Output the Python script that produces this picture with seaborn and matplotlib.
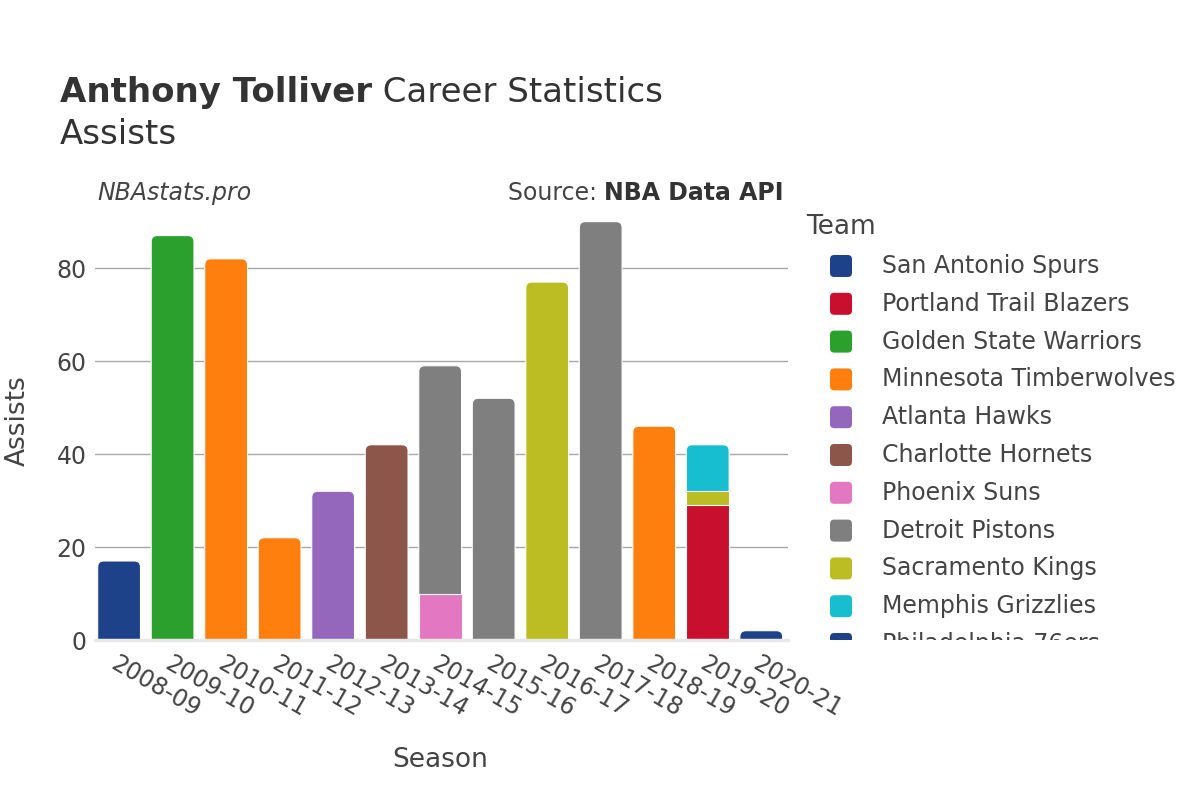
import matplotlib

matplotlib.use("Agg")
import matplotlib.pyplot as plt
import pandas as pd
import seaborn as sns
from matplotlib.patches import FancyBboxPatch
from matplotlib.transforms import Bbox, TransformedBbox

seasons = [
    "2008-09", "2009-10", "2010-11", "2011-12", "2012-13", "2013-14", "2014-15",
    "2015-16", "2016-17", "2017-18", "2018-19", "2019-20", "2020-21",
]

# legend order, also the stacking order (first = bottom)
teams = [
    "San Antonio Spurs", "Portland Trail Blazers", "Golden State Warriors",
    "Minnesota Timberwolves", "Atlanta Hawks", "Charlotte Hornets", "Phoenix Suns",
    "Detroit Pistons", "Sacramento Kings", "Memphis Grizzlies", "Philadelphia 76ers",
]
team_colors = [
    "#1d428a", "#c8102e", "#2ca02c", "#ff7f0e", "#9467bd", "#8c564b", "#e377c2",
    "#7f7f7f", "#bcbd22", "#17becf", "#1d428a",
]

row_season = [
    "2008-09", "2009-10", "2010-11", "2011-12", "2012-13", "2013-14", "2014-15",
    "2014-15", "2015-16", "2016-17", "2017-18", "2018-19", "2019-20", "2019-20",
    "2019-20", "2020-21",
]
row_team = [
    "San Antonio Spurs", "Golden State Warriors", "Minnesota Timberwolves",
    "Minnesota Timberwolves", "Atlanta Hawks", "Charlotte Hornets", "Phoenix Suns",
    "Detroit Pistons", "Detroit Pistons", "Sacramento Kings", "Detroit Pistons",
    "Minnesota Timberwolves", "Portland Trail Blazers", "Sacramento Kings",
    "Memphis Grizzlies", "Philadelphia 76ers",
]
row_assists = [17, 87, 82, 22, 32, 42, 10, 49, 52, 77, 90, 46, 29, 3, 10, 2]

TEXT = "#444444"
GRID = "#a8a8a8"

df = pd.DataFrame({"season": row_season, "team": row_team, "assists": row_assists})
df["rank"] = df["team"].map({t: i for i, t in enumerate(teams)})
df = df.sort_values(["season", "rank"])
# cumulative top of each segment; bars are overlaid from the top segment down
df["top"] = df.groupby("season")["assists"].cumsum()

sns.set_theme(style="white")
plt.rcParams["font.family"] = ["DejaVu Sans"]

fig = plt.figure(figsize=(12, 8), dpi=100)
ax = fig.add_axes([95 / 1200, 0.2, 693 / 1200, 430 / 800])

sns.barplot(
    data=df,
    x="season",
    y="top",
    hue="team",
    order=seasons,
    hue_order=teams[::-1],
    palette=dict(zip(teams, team_colors)),
    dodge=False,
    saturation=1,
    errorbar=None,
    legend=False,
    width=0.8,
    ax=ax,
)

ax.set_xlim(-0.45, 12.5)
ax.set_ylim(0, 92.5)
ax.set_yticks([0, 20, 40, 60, 80])
ax.grid(axis="y", color=GRID, linewidth=1)
ax.set_axisbelow(True)
sns.despine(ax=ax, left=True, bottom=True)
ax.axhline(0, color="#e8e8e8", linewidth=2.5, zorder=3, clip_on=False)

# round the top corners of the highest segment in every season
p0 = ax.transData.transform((0, 0))
p1 = ax.transData.transform((1, 1))
px_x, px_y = p1[0] - p0[0], p1[1] - p0[1]
r = 6 / px_x
aspect = px_x / px_y
tallest = {}
for bar in ax.patches:
    h = bar.get_height()
    if not h == h or h <= 0:
        continue
    key = round(bar.get_x() + bar.get_width() / 2)
    if key not in tallest or h > tallest[key].get_height():
        tallest[key] = bar
for bar in list(ax.patches):
    bar.set_edgecolor("white")
    bar.set_linewidth(0.8)
for bar in tallest.values():
    ext = r * aspect
    rounded = FancyBboxPatch(
        (bar.get_x(), -ext),
        bar.get_width(),
        bar.get_height() + ext,
        boxstyle=f"round,pad=0,rounding_size={r}",
        mutation_aspect=aspect,
        facecolor=bar.get_facecolor(),
        edgecolor="white",
        linewidth=0.8,
        zorder=0.9,
    )
    ax.add_patch(rounded)
    bar.remove()

ax.tick_params(axis="y", length=5, width=1, color=GRID, pad=1, labelsize=17, labelcolor=TEXT)
ax.tick_params(axis="x", length=0, pad=8, labelsize=17, labelcolor=TEXT)
for label in ax.get_xticklabels():
    label.set_rotation(-30)
    label.set_ha("left")
    label.set_va("top")
    label.set_rotation_mode("anchor")

ax.set_xlabel("Season", fontsize=19, color=TEXT, va="center")
ax.xaxis.set_label_coords(0.498, -0.279)
ax.set_ylabel("Assists", fontsize=19, color=TEXT, va="center")
ax.yaxis.set_label_coords(-0.112, 0.51)

renderer = fig.canvas.get_renderer()
to_fig = fig.transFigure.inverted()

# title
t1 = fig.text(60 / 1200, 1 - 102 / 800, "Anthony Tolliver", fontsize=24.5,
              fontweight="bold", color="#333333", va="baseline")
x_end = to_fig.transform(t1.get_window_extent(renderer).get_points())[1][0]
fig.text(x_end, 1 - 102 / 800, " Career Statistics", fontsize=24.5,
         color="#333333", va="baseline")
fig.text(60 / 1200, 1 - 144 / 800, "Assists", fontsize=24.5, color="#333333", va="baseline")

# credits
fig.text(97 / 1200, 1 - 200 / 800, "NBAstats.pro", fontsize=17, style="italic",
         color=TEXT, va="baseline")
s2 = fig.text(784 / 1200, 1 - 200 / 800, "NBA Data API", fontsize=17,
              fontweight="bold", color="#333333", va="baseline", ha="right")
x_start = to_fig.transform(s2.get_window_extent(renderer).get_points())[0][0]
fig.text(x_start, 1 - 200 / 800, "Source: ", fontsize=17, color=TEXT,
         va="baseline", ha="right")

# legend, cut off at the bottom of the plot area like the original
clip = TransformedBbox(Bbox([[0.66, 0.2], [1.0, 0.76]]), fig.transFigure)
fig.text(806 / 1200, 1 - 227 / 800, "Team", fontsize=19, color=TEXT, va="center")
for i, (team, color) in enumerate(zip(teams, team_colors)):
    yc = 1 - (266 + i * 37.8) / 800
    sq = FancyBboxPatch(
        (830 / 1200, yc - 11 / 800),
        22 / 1200,
        22 / 800,
        boxstyle="round,pad=0,rounding_size=0.0035",
        mutation_aspect=1.5,
        transform=fig.transFigure,
        facecolor=color,
        edgecolor="none",
    )
    fig.add_artist(sq)
    sq.set_clip_box(clip)
    txt = fig.text(882 / 1200, yc, team, fontsize=17, color=TEXT, va="center")
    txt.set_clip_on(True)
    txt.set_clip_box(clip)

fig.savefig("out.png", dpi=100)
